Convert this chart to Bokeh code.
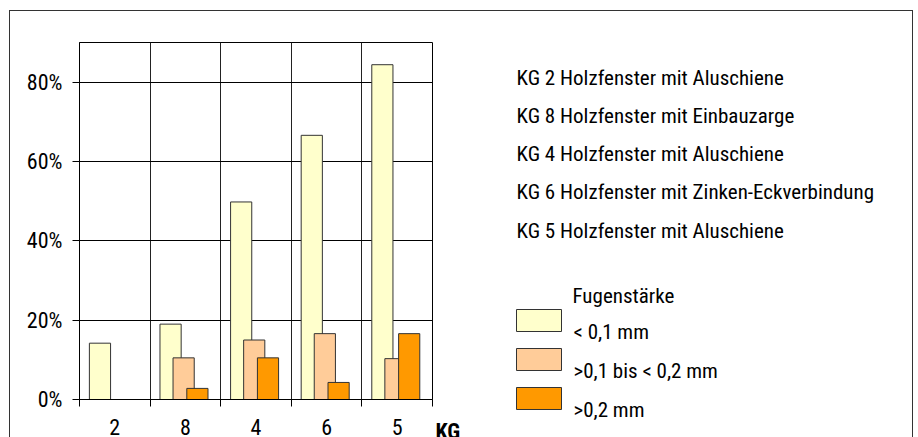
from bokeh.plotting import figure
from bokeh.layouts import row
from bokeh.models import FixedTicker, PrintfTickFormatter, Range1d
from bokeh.core.properties import value
from bokeh.embed import file_html
from bokeh.resources import INLINE

# ---- data ----
categories = ["2", "8", "4", "6", "5"]
lt_01 = [14.2, 19.0, 49.8, 66.6, 84.4]        # < 0,1 mm
mid_01_02 = [0.0, 10.5, 15.0, 16.6, 10.3]     # >0,1 bis < 0,2 mm
gt_02 = [0.0, 2.8, 10.5, 4.3, 16.6]           # >0,2 mm
series_labels = ["< 0,1 mm", ">0,1 bis < 0,2  mm", ">0,2 mm"]
kg_descriptions = [
    "KG 2  Holzfenster mit Aluschiene",
    "KG 8  Holzfenster mit Einbauzarge",
    "KG 4  Holzfenster mit Aluschiene",
    "KG 6  Holzfenster mit Zinken-Eckverbindung",
    "KG 5 Holzfenster mit Aluschiene",
]
legend_title = "Fugenstärke"
x_title = "KG"
y_ticks = [0, 20, 40, 60, 80]

FONT = "'Liberation Sans Narrow', 'Arial Narrow', 'Roboto Condensed', sans-serif"
FS = "21px"
colors = ["#FFFFCC", "#FFCC99", "#FF9900"]
offsets = [-0.21, -0.025, 0.17]
bar_w = 0.30

# ---------------- chart ----------------
p = figure(width=423, height=426, output_backend="svg", toolbar_location=None,
           x_range=Range1d(0, len(categories)), y_range=Range1d(0, 90),
           min_border_left=69, min_border_right=1, min_border_top=31, min_border_bottom=34)
p.background_fill_color = "white"
p.border_fill_color = "white"
p.outline_line_color = "black"
p.outline_line_width = 1

centers = [i + 0.5 for i in range(len(categories))]
for vals, col, off in zip([lt_01, mid_01_02, gt_02], colors, offsets):
    xs = [c + off for c in centers]
    p.vbar(x=xs, top=vals, width=bar_w, fill_color=col, line_color="#333333", line_width=1)

p.yaxis.ticker = FixedTicker(ticks=y_ticks)
p.yaxis.formatter = PrintfTickFormatter(format="%d%%")
p.yaxis.major_tick_out = 7
p.yaxis.major_tick_in = 0
p.yaxis.minor_tick_out = 0
p.yaxis.minor_tick_in = 0
p.yaxis.major_label_standoff = 10
p.yaxis.major_label_text_font = FONT
p.yaxis.major_label_text_font_size = "22px"
p.yaxis.major_label_text_color = "black"
p.yaxis.axis_line_color = "black"
p.yaxis.major_tick_line_color = "black"

p.xaxis.ticker = FixedTicker(ticks=centers, minor_ticks=list(range(len(categories) + 1)))
p.xaxis.major_label_overrides = {c: lab for c, lab in zip(centers, categories)}
p.xaxis.major_tick_out = 0
p.xaxis.major_tick_in = 0
p.xaxis.minor_tick_out = 7
p.xaxis.minor_tick_in = 0
p.xaxis.minor_tick_line_color = "black"
p.xaxis.major_label_standoff = 12
p.xaxis.major_label_text_font = FONT
p.xaxis.major_label_text_font_size = "22px"
p.xaxis.major_label_text_color = "black"
p.xaxis.axis_line_color = "black"

p.ygrid.ticker = FixedTicker(ticks=y_ticks)
p.ygrid.grid_line_color = "black"
p.ygrid.grid_line_width = 1
p.xgrid.ticker = FixedTicker(ticks=list(range(len(categories) + 1)))
p.xgrid.grid_line_color = "#222222"
p.xgrid.grid_line_width = 1

# ---------------- right panel (descriptions + legend), pixel coordinates ----------------
q = figure(width=479, height=426, output_backend="svg", toolbar_location=None,
           x_axis_location=None, y_axis_location=None, title=None,
           x_range=Range1d(433, 912), y_range=Range1d(437, 11),
           min_border_left=0, min_border_right=0, min_border_top=0, min_border_bottom=0)
q.grid.visible = False
q.outline_line_color = None
q.background_fill_color = "white"
q.border_fill_color = "white"

# keep each figure's frame independent (no cross-plot frame alignment)
for fig in (p, q):
    try:
        fig.frame_align = False
    except Exception:
        pass

q.text(x=[435], y=[431], text=[x_title], text_font=value(FONT), text_font_size="22px",
       text_font_style="bold", text_baseline="alphabetic", text_color="black")

q.text(x=[516] * len(kg_descriptions), y=[77.3 + i * 38.2 for i in range(len(kg_descriptions))],
       text=kg_descriptions, text_font=value(FONT), text_font_size=FS,
       text_baseline="alphabetic", text_color="black")

q.text(x=[572], y=[295], text=[legend_title], text_font=value(FONT), text_font_size=FS,
       text_baseline="alphabetic", text_color="black")

tops = [309 + i * 39 for i in range(len(series_labels))]
q.quad(left=[516] * 3, right=[561] * 3, top=tops, bottom=[t + 22 for t in tops],
       fill_color=colors, line_color="#333333", line_width=1)
q.text(x=[573] * 3, y=[t + 22.5 for t in tops], text=series_labels, text_font=value(FONT),
       text_font_size=FS, text_baseline="alphabetic", text_color="black")

layout = row(p, q, spacing=0,
             styles={"margin-left": "9px", "margin-top": "10px", "margin-right": "5px",
                     "border-top": "1px solid #333333", "border-left": "1px solid #333333",
                     "border-right": "1px solid #333333"})

open("out.html", "w").write(file_html(layout, INLINE))
